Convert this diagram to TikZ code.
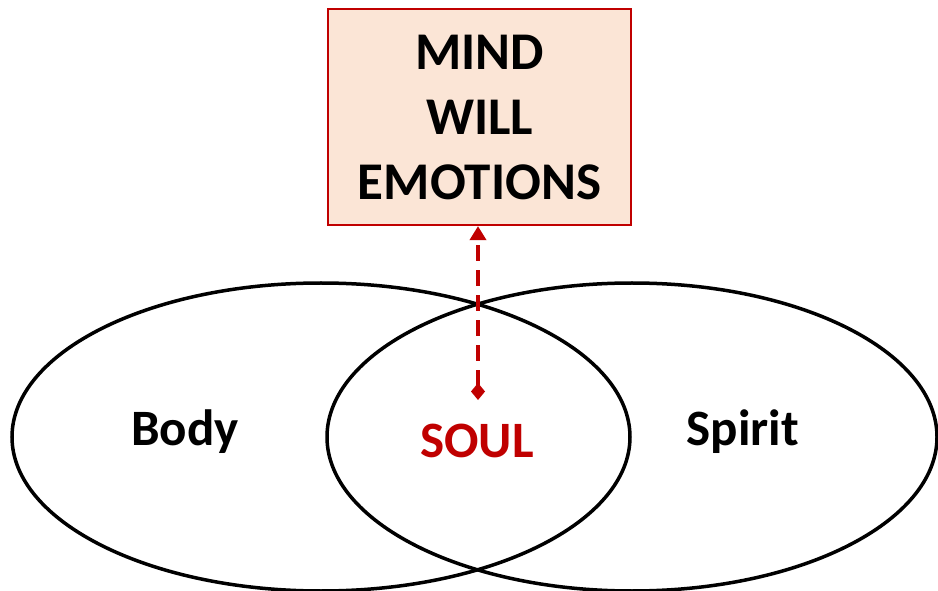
\documentclass[tikz,border=0pt]{standalone}
\usepackage{fontspec}
\setmainfont{Carlito}
\usepackage{tikz}
\usetikzlibrary{shapes.geometric,arrows.meta}
\definecolor{boxfill}{HTML}{FBE5D6}
\definecolor{soulred}{HTML}{C00000}

\begin{document}
\begin{tikzpicture}[x=1pt, y=1pt,
  every node/.style={font=\fontsize{51}{60}\selectfont\bfseries},
  realm/.style={draw=black, line width=3.5pt, ellipse, inner sep=0pt},
  faculty/.style={draw=soulred, line width=2.2pt, fill=boxfill, align=center,
                  minimum width=303pt, minimum height=216pt,
                  font=\fontsize{53}{65}\selectfont\bfseries},
  word/.style={anchor=base, inner sep=0pt},
  link/.style={draw=soulred, line width=3.5pt, dash pattern=on 16pt off 9pt,
               {Diamond[length=17pt,width=14pt]}-{Triangle[length=14pt,width=16pt]}}
]
  \clip (0,0) rectangle (938,590);
  \useasboundingbox (0,0) rectangle (938,590);

  \node[realm, minimum width=618pt, minimum height=308pt] (body) at (321,153) {};
  \node[realm, minimum width=610pt, minimum height=308pt] (spirit) at (632,153) {};

  \node[faculty] (mwe) at (479.5,473) {MIND\\ WILL\\ EMOTIONS};

  \node[word] (bodylbl) at (185,145) {Body};
  \node[word] (spiritlbl) at (743,145) {Spirit};
  \node[word, text=soulred] (soul) at (477,132) {SOUL};

  \coordinate (tip) at (478,190);
  \draw[link] (tip) -- (mwe.south -| tip);
\end{tikzpicture}
\end{document}
